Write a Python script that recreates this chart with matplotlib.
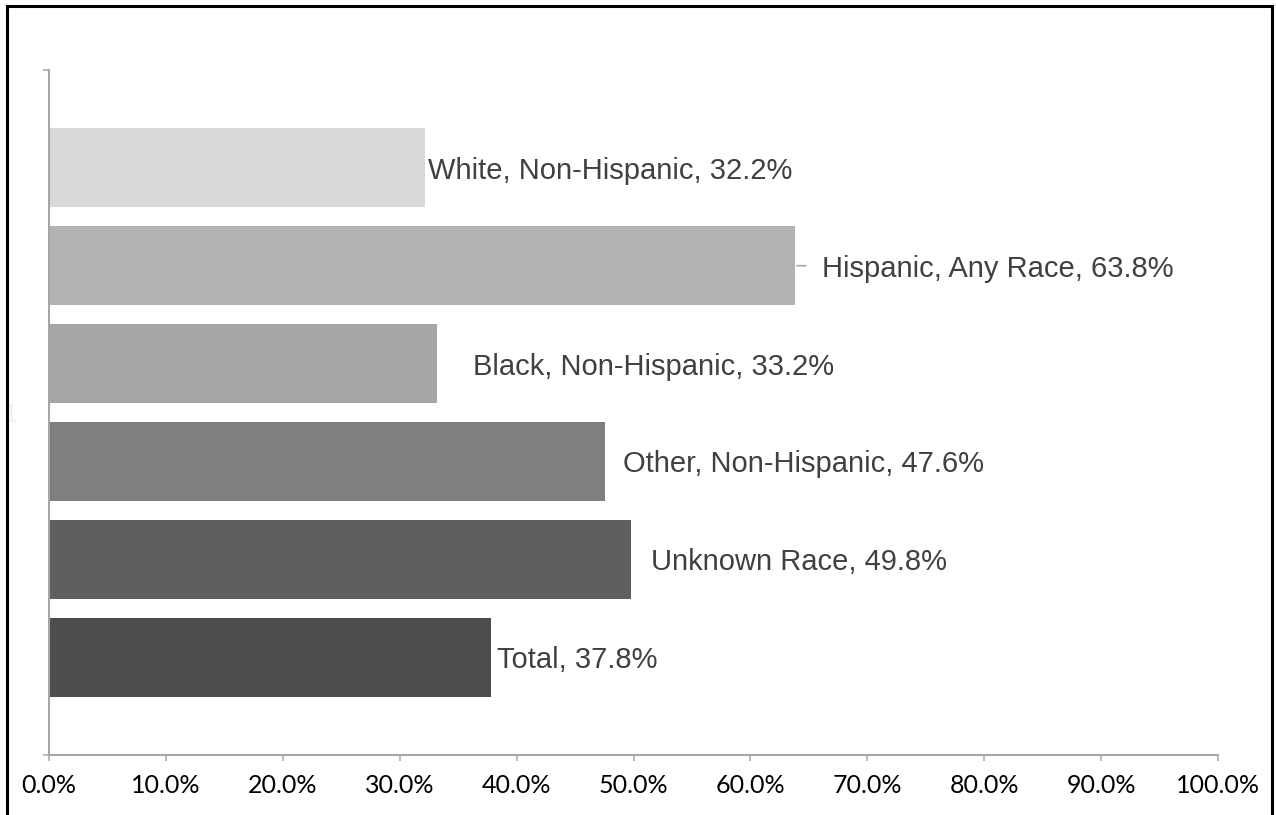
import matplotlib.pyplot as plt
from matplotlib.patches import Rectangle
from matplotlib.ticker import FuncFormatter

groups = ["White, Non-Hispanic", "Hispanic, Any Race", "Black, Non-Hispanic",
          "Other, Non-Hispanic", "Unknown Race", "Total"]
values = [32.2, 63.8, 33.2, 47.6, 49.8, 37.8]
colors = ["#d9d9d9", "#b3b3b3", "#a6a6a6", "#7f7f7f", "#5f5f5f", "#4d4d4d"]
# label offsets from bar end, in points (labels were nudged by hand in the original)
label_dx = [2.2, 19.4, 25.9, 13.0, 14.4, 4.3]
leader = [False, True, False, False, False, False]

W, H = 1276, 815
fig = plt.figure(figsize=(W / 100, H / 100), dpi=100)
ax = fig.add_axes([49 / W, 60 / H, (1218 - 49) / W, (755 - 70) / H])

pos = list(range(len(values)))
ax.barh(pos, [v / 100 for v in values], height=0.806, color=colors, zorder=2)

for i, (g, v) in enumerate(zip(groups, values)):
    ax.annotate(f"{g}, {v:.1f}%", xy=(v / 100, i), xytext=(label_dx[i], 0),
                textcoords="offset points", va="center_baseline", ha="left",
                fontsize=21, color="#404040", family="Liberation Sans")
    if leader[i]:
        # short leader line, as Excel draws for a moved label
        ax.annotate("", xy=(v / 100, i), xytext=(8, 0), textcoords="offset points",
                    arrowprops=dict(arrowstyle="-", color="#a6a6a6", lw=1.2,
                                    shrinkA=0, shrinkB=1.5))

ax.set_xlim(0, 1)
ax.set_ylim(6, -1)
ax.set_xticks([k / 10 for k in range(11)])
ax.xaxis.set_major_formatter(FuncFormatter(lambda x, p: f"{x * 100:.1f}%"))
ax.set_yticks([-1, 6])
ax.set_yticklabels(["", ""])
ax.set_yticks([2.5], minor=True)
ax.set_yticklabels(["1"], minor=True)
ax.tick_params(axis="y", which="minor", length=0, pad=22, labelsize=18,
               labelcolor="#f2f2f2")

for s in ["top", "right"]:
    ax.spines[s].set_visible(False)
for s in ["left", "bottom"]:
    ax.spines[s].set_color("#a6a6a6")
    ax.spines[s].set_linewidth(1.5)
ax.tick_params(axis="both", which="major", direction="out", length=4.3,
               width=1.1, color="#a6a6a6")
ax.tick_params(axis="x", pad=9.5, labelsize=18, labelcolor="black")
for lab in ax.get_xticklabels():
    lab.set_family("Lato")

fig.add_artist(Rectangle((7 / W, -0.05), (1272 - 7) / W, 1.05 - 6 / H,
                         transform=fig.transFigure, fill=False,
                         edgecolor="black", lw=2.2))

fig.savefig("out.png", dpi=100)
